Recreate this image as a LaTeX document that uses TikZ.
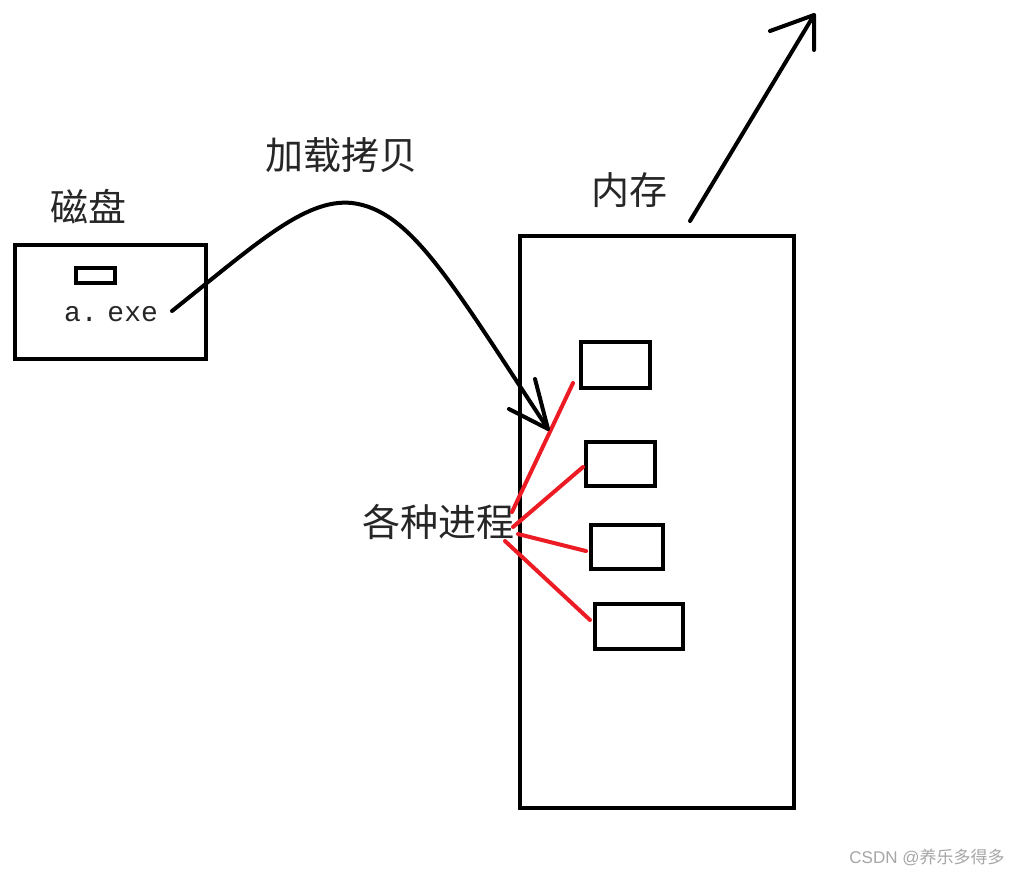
\documentclass[tikz,border=0pt]{standalone}
\usepackage{fontspec}
\newfontfamily\cjk{Noto Sans CJK SC}
\newfontfamily\monof{Liberation Mono}
\newfontfamily\sansf{Liberation Sans}
\definecolor{pred}{RGB}{237,28,36}
\begin{document}
\begin{tikzpicture}[x=1pt,y=-1pt,
  blk/.style={draw=black,line width=4pt},
  redl/.style={draw=pred,line width=4pt,line cap=round},
  arr/.style={draw=black,line width=4pt,line cap=round,line join=round},
  lbl/.style={font=\cjk\fontsize{38}{38}\selectfont,text=black!85,inner sep=0pt}]
\useasboundingbox (0,0) rectangle (1016,876);
\fill[white] (0,0) rectangle (1016,876);
% disk
\node[blk,minimum width=191pt,minimum height=114pt,inner sep=0pt,anchor=north west] (disk) at (13,243) {};
\node[draw=black,line width=3.5pt,minimum width=39pt,minimum height=15pt,inner sep=0pt,anchor=north west] (file) at (74,266) {};
\node[font=\monof\fontsize{28}{28}\selectfont,text=black!85,inner sep=0pt] (exe) at (111,314) {a.\kern-7pt\ exe};
\node[lbl] (disklbl) at (88,207) {磁盘};
% memory
\node[blk,minimum width=274pt,minimum height=572pt,inner sep=0pt,anchor=north west] (mem) at (518,234) {};
\node[lbl] (memlbl) at (629,190) {内存};
\node[lbl] (load) at (341,155) {加载拷贝};
\node[lbl] (proc) at (438,522) {各种进程};
% process boxes
\node[blk,minimum width=69pt,minimum height=46pt,inner sep=0pt,anchor=north west] (p1) at (579,340) {};
\node[blk,minimum width=69pt,minimum height=44pt,inner sep=0pt,anchor=north west] (p2) at (584,440) {};
\node[blk,minimum width=72pt,minimum height=44pt,inner sep=0pt,anchor=north west] (p3) at (589,523) {};
\node[blk,minimum width=88pt,minimum height=45pt,inner sep=0pt,anchor=north west] (p4) at (593,602) {};
% red connectors
\coordinate (r1a) at (512,512); \coordinate (r1b) at (573,383);
\coordinate (r2a) at (513,527); \coordinate (r2b) at (583,467);
\coordinate (r3a) at (518,534); \coordinate (r3b) at (586,551);
\coordinate (r4a) at (505,541); \coordinate (r4b) at (590,620);
\draw[redl] (r1a) -- (r1b);
\draw[redl] (r2a) -- (r2b);
\draw[redl] (r3a) -- (r3b);
\draw[redl] (r4a) -- (r4b);
% load curve
\coordinate (cs) at (172,311);
\coordinate (ce) at (548,429);
\draw[arr] (cs) .. controls (255,245) and (305,198) .. (352,203)
  .. controls (410,210) and (450,280) .. (ce);
\coordinate (ah1) at (535,379);
\coordinate (ah2) at (509,409);
\draw[arr] (ah1) -- (ce) -- (ah2);
% upward arrow
\coordinate (us) at (690,221);
\coordinate (ut) at (814,15);
\draw[arr] (us) -- (ut);
\coordinate (uh1) at (770,31);
\coordinate (uh2) at (814,50);
\draw[arr] (uh1) -- (ut) -- (uh2);
% watermark
\node[font=\sansf\fontsize{17}{17}\selectfont,text=black!35,inner sep=0pt] (wm) at (927,857) {CSDN @{\cjk 养乐多得多}};
\end{tikzpicture}
\end{document}
